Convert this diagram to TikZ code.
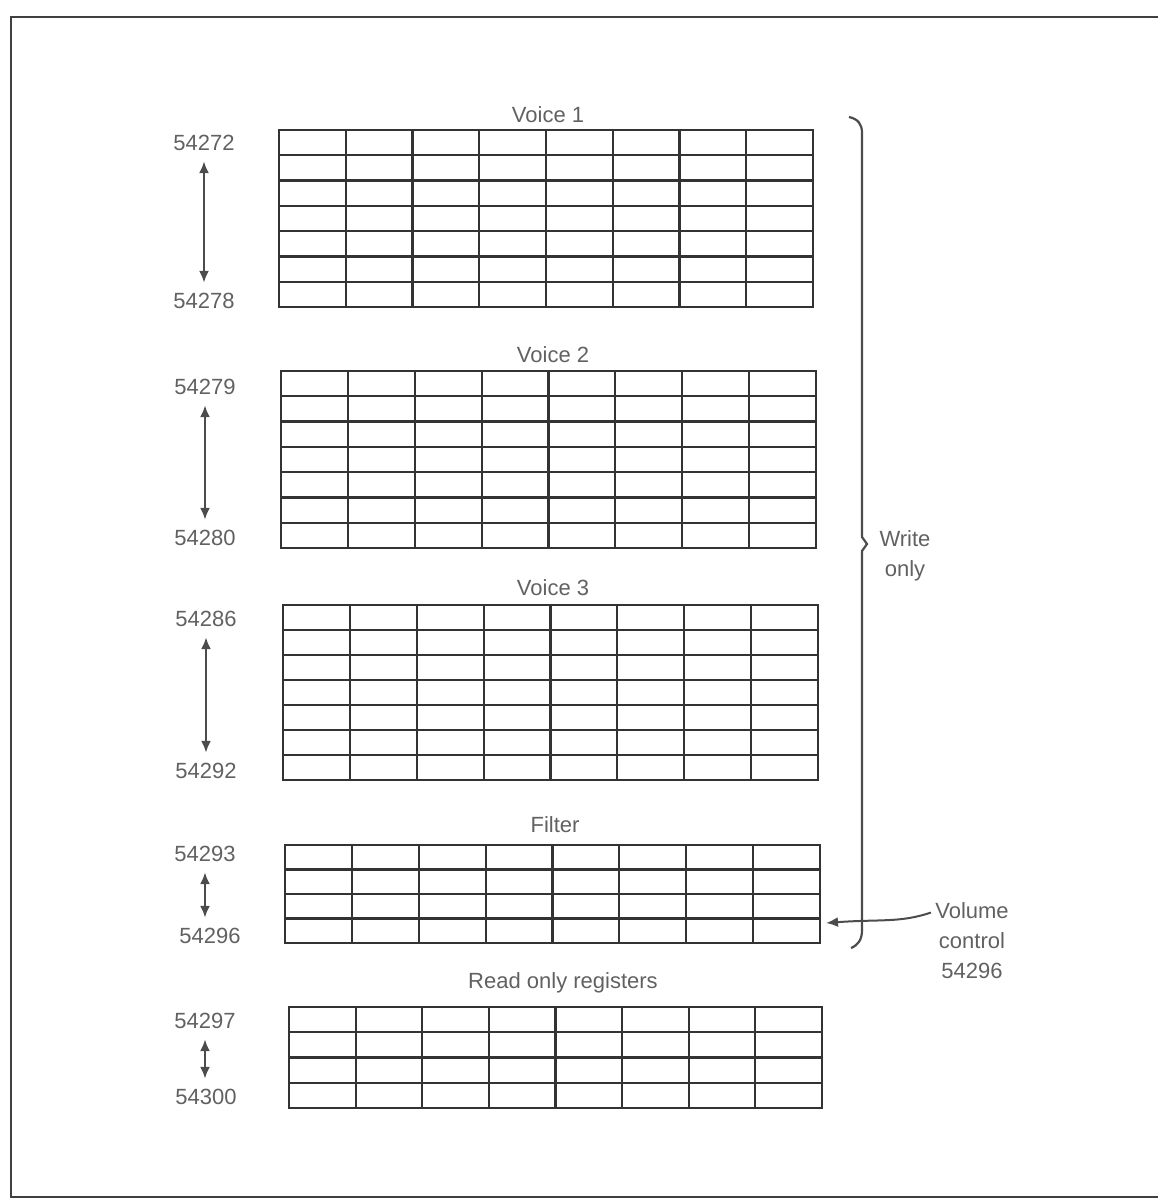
\documentclass[tikz,border=0pt]{standalone}
\usepackage{fontspec}
\setmainfont{Liberation Sans}
\usetikzlibrary{arrows.meta}

\begin{document}
\begin{tikzpicture}[x=0.5pt, y=-0.5pt, >={Latex[length=6pt,width=5pt]},
    font=\fontsize{11}{15}\selectfont, text=black!62,
    every node/.style={inner sep=2pt}]
  \useasboundingbox (0,0) rectangle (1158,1200);
  % frame
  \draw[line width=1.3pt, black!75] (1158,17) -- (11,17) -- (11,1197) -- (1158,1197);
  % register blocks: left/top/right/bottom/rows
  \foreach \xa/\ya/\xb/\yb/\nr in {279/130/813/307/7, 281/371/816/548/7,
      283/605/818/780/7, 285/845/820/943/4, 289/1007/822/1108/4} {
    \draw[line width=1.1pt, black!80] (\xa,\ya) rectangle (\xb,\yb);
    \foreach \i in {1,...,7}
      \draw[line width=1.1pt, black!80] ({\xa+\i*(\xb-\xa)/8},\ya) -- ({\xa+\i*(\xb-\xa)/8},\yb);
    \pgfmathtruncatemacro{\nrm}{\nr-1}
    \foreach \j in {1,...,\nrm}
      \draw[line width=1.1pt, black!80] (\xa,{\ya+\j*(\yb-\ya)/\nr}) -- (\xb,{\ya+\j*(\yb-\ya)/\nr});
  }
  % titles
  \node (v1) at (548,115) {Voice 1};
  \node (v2) at (553,355) {Voice 2};
  \node (v3) at (553,588) {Voice 3};
  \node (flt) at (555,825) {Filter};
  \node (ro) at (563,983) {Read only registers};
  % addresses
  \node (a1t) at (204,143) {54272};
  \node (a1b) at (204,301) {54278};
  \node (a2t) at (205,387) {54279};
  \node (a2b) at (205,538) {54280};
  \node (a3t) at (206,619) {54286};
  \node (a3b) at (206,771) {54292};
  \node (a4t) at (205,854) {54293};
  \node (a4b) at (210,936) {54296};
  \node (a5t) at (205,1021) {54297};
  \node (a5b) at (206,1097) {54300};
  \foreach \k in {1,...,5}
    \draw[<->, line width=1.1pt, black!70, shorten <=3pt, shorten >=3pt]
      (a\k t.south) -- (a\k t.south |- a\k b.north);
  % brace
  \draw[line width=1.1pt, black!70] (849,117) .. controls (858,119) and (862,124) .. (862,133)
    -- (862,537) -- (867,544) -- (862,551) -- (862,930)
    .. controls (862,940) and (858,945) .. (851,948);
  \node[align=center] (wo) at (905,556) {Write\\only};
  % volume control
  \node[align=center] (vol) at (972,941) {Volume\\control\\54296};
  \coordinate (volend) at (826,923);
  \draw[->, line width=1pt, black!70] ([yshift=-7pt]vol.north west)
    .. controls (900,923) and (880,919) .. (volend);
\end{tikzpicture}
\end{document}
